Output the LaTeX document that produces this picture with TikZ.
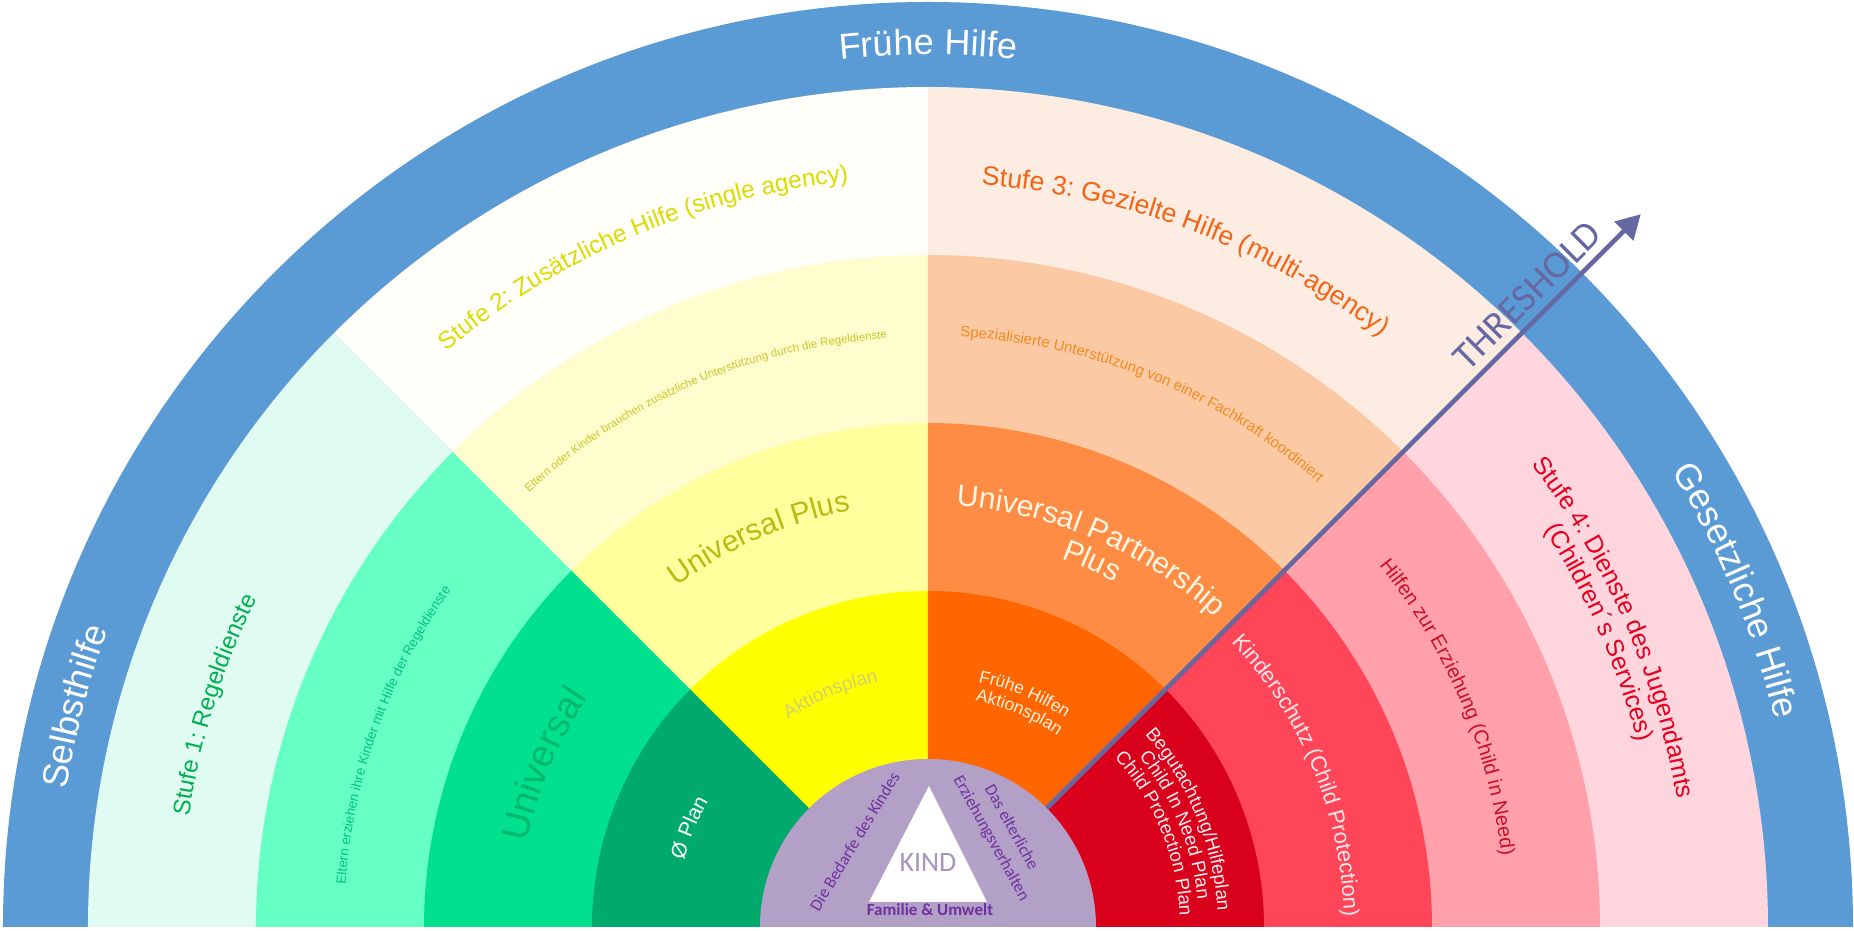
\documentclass[tikz,border=0pt]{standalone}
\usepackage{fontspec}
\setmainfont{Liberation Sans}
\newfontfamily\carlito{Carlito}
\usetikzlibrary{decorations.text,arrows.meta}
\newcommand\fsz[1]{\fontsize{#1}{#1}\selectfont}
\newcommand\fillsector[4]{\fill[#1] (0,0) -- (#2:#4pt) arc[start angle=#2,end angle=#3,radius=#4pt] -- cycle;}
\newcommand\arctext[5]{\path[decorate,decoration={text along path,text align=center,text color=#1,text={|\fsz{#2}|#5}}] ({#3+70}:#4pt) arc[start angle={#3+70},end angle={#3-70},radius=#4pt];}
\definecolor{cblue}{RGB}{91,155,213}
\definecolor{ga}{RGB}{224,251,241}
\definecolor{gb}{RGB}{102,255,196}
\definecolor{gc}{RGB}{0,224,142}
\definecolor{gd}{RGB}{0,170,108}
\definecolor{ya}{RGB}{255,254,248}
\definecolor{yb}{RGB}{255,252,206}
\definecolor{yc}{RGB}{255,255,158}
\definecolor{yd}{RGB}{255,255,0}
\definecolor{oa}{RGB}{253,236,226}
\definecolor{ob}{RGB}{252,201,165}
\definecolor{oc}{RGB}{255,140,68}
\definecolor{od}{RGB}{255,102,0}
\definecolor{ra}{RGB}{255,214,221}
\definecolor{rb}{RGB}{255,160,170}
\definecolor{rc}{RGB}{255,69,88}
\definecolor{rd}{RGB}{217,0,27}
\definecolor{purp}{RGB}{178,160,198}
\definecolor{purpt}{RGB}{112,48,160}
\definecolor{kindc}{RGB}{165,148,188}
\definecolor{arrowc}{RGB}{102,104,164}
\definecolor{tsa}{RGB}{0,176,80}
\definecolor{tsb}{RGB}{220,220,0}
\definecolor{tsc}{RGB}{244,100,20}
\definecolor{tsd}{RGB}{228,0,30}
\definecolor{tea}{RGB}{0,196,120}
\definecolor{teb}{RGB}{200,200,40}
\definecolor{tec}{RGB}{240,140,30}
\definecolor{ted}{RGB}{200,16,40}
\definecolor{tua}{RGB}{0,184,108}
\definecolor{tub}{RGB}{186,186,20}
\definecolor{tuc}{RGB}{255,246,228}
\definecolor{tud}{RGB}{255,232,236}
\definecolor{tab}{RGB}{208,208,110}
\definecolor{tac}{RGB}{255,240,225}
\definecolor{tad}{RGB}{255,236,236}
\begin{document}
\begin{tikzpicture}
\useasboundingbox (-464pt,-2pt) rectangle (463pt,463.5pt);
\fill[white] (-464pt,-2pt) rectangle (463pt,463.5pt);
% outer band
\fillsector{cblue}{0}{180}{462.5}
% ring 1
\fillsector{ga}{135}{180}{420}
\fillsector{ya}{90}{135}{420}
\fillsector{oa}{45}{90}{420}
\fillsector{ra}{0}{45}{420}
% ring 2
\fillsector{gb}{135}{180}{336}
\fillsector{yb}{90}{135}{336}
\fillsector{ob}{45}{90}{336}
\fillsector{rb}{0}{45}{336}
% ring 3
\fillsector{gc}{135}{180}{252}
\fillsector{yc}{90}{135}{252}
\fillsector{oc}{45}{90}{252}
\fillsector{rc}{0}{45}{252}
% ring 4
\fillsector{gd}{135}{180}{168}
\fillsector{yd}{90}{135}{168}
\fillsector{od}{45}{90}{168}
\fillsector{rd}{0}{45}{168}
% centre
\fillsector{purp}{0}{180}{84}
\fill[white] (-29.5pt,12.5pt) -- (0.5pt,70.5pt) -- (29.5pt,12.5pt) -- cycle;
% threshold arrow
\coordinate (thrS) at (45:84pt);
\coordinate (thrE) at (45:504pt);
\draw[arrowc, line width=2.3pt, -{Triangle[length=12pt,width=13pt]}] (thrS) -- (thrE);
\node[font=\carlito\fsz{19.5}, text=arrowc, rotate=45] (thr) at (299.5pt,315.7pt) {THRESHOLD};
% band texts
\arctext{white}{18}{90}{436}{Frühe Hilfe}
\arctext{white}{18}{165.5}{436}{Selbsthilfe}
\arctext{white}{18}{22.6}{436}{Gesetzliche Hilfe}
% Stufe titles
\arctext{tsa}{12}{162.7}{373.5}{Stufe 1: Regeldienste}
\arctext{tsb}{12.2}{113}{375}{Stufe 2: Zusätzliche Hilfe (single agency)}
\arctext{tsc}{13.3}{69.2}{372}{Stufe 3: Gezielte Hilfe (multi-agency)}
\arctext{tsd}{12.5}{23.6}{380}{Stufe 4: Dienste des Jugendamts}
\arctext{tsd}{12.5}{23.7}{366.5}{(Children´s Services)}
% ring 2 texts
\arctext{tea}{6.7}{160.3}{292}{Eltern erziehen ihre Kinder mit Hilfe der Regeldienste}
\arctext{teb}{5.7}{113.3}{295}{Eltern oder Kinder brauchen zusätzliche Unterstützung durch die Regeldienste}
\arctext{tec}{7.5}{67.8}{295.5}{Spezialisierte Unterstützung von einer Fachkraft koordiniert}
\arctext{ted}{10}{22.9}{289}{Hilfen zur Erziehung (Child in Need)}
% ring 3 texts
\arctext{tua}{19}{157.1}{205}{Universal}
\arctext{tub}{15}{113.5}{211.5}{Universal Plus}
\arctext{tuc}{15}{66.7}{211}{Universal Partnership}
\arctext{tuc}{15}{65.9}{196}{Plus}
\arctext{tud}{11}{22.3}{208}{Kinderschutz (Child Protection)}
% ring 4 texts
\arctext{white}{10.5}{157.4}{126.5}{Ø Plan}
\arctext{tab}{9.5}{112.7}{125}{Aktionsplan}
\arctext{tac}{8.7}{67.5}{125}{Frühe Hilfen}
\arctext{tac}{8.7}{67}{115.5}{Aktionsplan}
\arctext{tad}{9.4}{22.4}{145}{Begutachtung/Hilfeplan}
\arctext{tad}{9.4}{22.4}{135.5}{Child In Need Plan}
\arctext{tad}{9.4}{22.4}{126}{Child Protection Plan}
% centre texts
\node[font=\carlito\fsz{14}, text=kindc] (kind) at (0,32pt) {KIND};
\node[font=\carlito\bfseries\fsz{8.5}, text=purpt] (fam) at (1pt,8.5pt) {Familie \& Umwelt};
\node[font=\carlito\fsz{8.5}, text=purpt, rotate=59] (bed) at (-36.75pt,42.75pt) {Die Bedarfe des Kindes};
\node[font=\carlito\fontsize{8.5}{11.5}\selectfont, text=purpt, rotate=-61, align=center] (erz) at (36.5pt,47pt) {Das elterliche\\Erziehungsverhalten};
\end{tikzpicture}
\end{document}
